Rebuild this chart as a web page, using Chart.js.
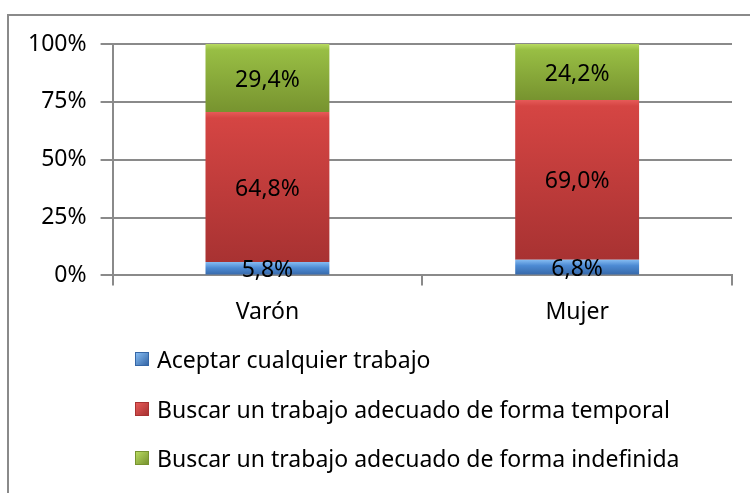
<!DOCTYPE html>
<html>
<head>
<meta charset="utf-8">
<script src="https://cdn.jsdelivr.net/npm/chart.js@4"></script>
<style>
  html, body { margin: 0; padding: 0; background: #fff; overflow: hidden; }
  #wrap { position: relative; width: 750px; height: 493px; }
  #frame { position: absolute; left: 7px; top: 14px; width: 760px; height: 500px; border: 2px solid #8a8a8a; box-sizing: border-box; }
  canvas { position: absolute; left: 0; top: 0; }
  #legend { position: absolute; left: 135px; top: 343px; font-family: "Noto Sans", sans-serif; font-size: 23px; color: #000; }
  #legend div { height: 49.5px; display: flex; align-items: flex-start; }
  #legend span.box { width: 14px; height: 14px; margin: 9px 8px 0 0; box-sizing: border-box; }
</style>
</head>
<body>
<div id="wrap">
  <div id="frame"></div>
  <canvas id="chart" width="750" height="493"></canvas>
  <div id="legend"></div>
</div>
<script>
const categories = ['Varón', 'Mujer'];
const seriesNames = ['Aceptar cualquier trabajo', 'Buscar un trabajo adecuado de forma temporal', 'Buscar un trabajo adecuado de forma indefinida'];
const aceptar = [5.8, 6.8];
const temporal = [64.8, 69.0];
const indefinida = [29.4, 24.2];
const yTicks = [0, 25, 50, 75, 100];

const shades = [
  { top: '#86bcf2', mid: '#4c8ad3', bottom: '#3566a6' },
  { top: '#e65a58', mid: '#d54543', bottom: '#a83232' },
  { top: '#b8da60', mid: '#98be44', bottom: '#77932f' }
];
const allSeries = [aceptar, temporal, indefinida];

function segmentFill(ctx) {
  const chart = ctx.chart;
  const s = shades[ctx.datasetIndex];
  if (!chart.chartArea || ctx.type !== 'data') return s.mid;
  const y = chart.scales.y;
  let start = 0;
  for (let i = 0; i < ctx.datasetIndex; i++) start += allSeries[i][ctx.dataIndex];
  const end = start + allSeries[ctx.datasetIndex][ctx.dataIndex];
  const top = y.getPixelForValue(end), bottom = y.getPixelForValue(start);
  const g = chart.ctx.createLinearGradient(0, top, 0, bottom);
  g.addColorStop(0, s.top);
  g.addColorStop(Math.min(0.5, 6 / Math.max(1, bottom - top)), s.mid);
  g.addColorStop(1, s.bottom);
  return g;
}

const valueLabels = {
  id: 'valueLabels',
  afterDatasetsDraw(chart) {
    const c = chart.ctx;
    c.save();
    c.font = '23px "Noto Sans", sans-serif';
    c.fillStyle = '#000';
    c.textAlign = 'center';
    c.textBaseline = 'middle';
    chart.data.datasets.forEach((ds, di) => {
      chart.getDatasetMeta(di).data.forEach((el, i) => {
        const txt = ds.data[i].toFixed(1).replace('.', ',') + '%';
        c.fillText(txt, el.x, (el.y + el.base) / 2 + 2);
      });
    });
    c.restore();
  }
};

const gridColor = '#8a8a8a';

const chart = new Chart(document.getElementById('chart'), {
  type: 'bar',
  data: {
    labels: categories,
    datasets: allSeries.map((d, i) => ({
      label: seriesNames[i],
      data: d,
      backgroundColor: segmentFill,
      borderWidth: 0,
      categoryPercentage: 0.8,
      barPercentage: 0.5
    }))
  },
  options: {
    responsive: false,
    animation: false,
    layout: { padding: { left: 14, right: 18, top: 44, bottom: 154 } },
    plugins: { legend: { display: false }, tooltip: { enabled: false } },
    scales: {
      x: {
        stacked: true,
        grid: { offset: true, drawOnChartArea: false, tickLength: 10, color: gridColor, lineWidth: 2 },
        border: { color: gridColor, width: 2 },
        ticks: { color: '#000', font: { family: 'Noto Sans', size: 23 }, padding: 13 }
      },
      y: {
        stacked: true,
        min: 0,
        max: 100,
        afterBuildTicks: axis => { axis.ticks = yTicks.map(v => ({ value: v })); },
        grid: { color: gridColor, lineWidth: 2, tickLength: 12 },
        border: { color: gridColor, width: 2 },
        ticks: { color: '#000', font: { family: 'Noto Sans', size: 23 }, padding: 14, callback: v => v + '%' }
      }
    }
  },
  plugins: [valueLabels]
});

const legend = document.getElementById('legend');
chart.data.datasets.forEach((ds, i) => {
  const row = document.createElement('div');
  const box = document.createElement('span');
  box.className = 'box';
  box.style.background = 'linear-gradient(135deg, ' + shades[i].top + ', ' + shades[i].bottom + ')';
  box.style.border = '1px solid ' + shades[i].bottom;
  const txt = document.createElement('span');
  txt.textContent = ds.label;
  row.appendChild(box);
  row.appendChild(txt);
  legend.appendChild(row);
});
</script>
</body>
</html>
